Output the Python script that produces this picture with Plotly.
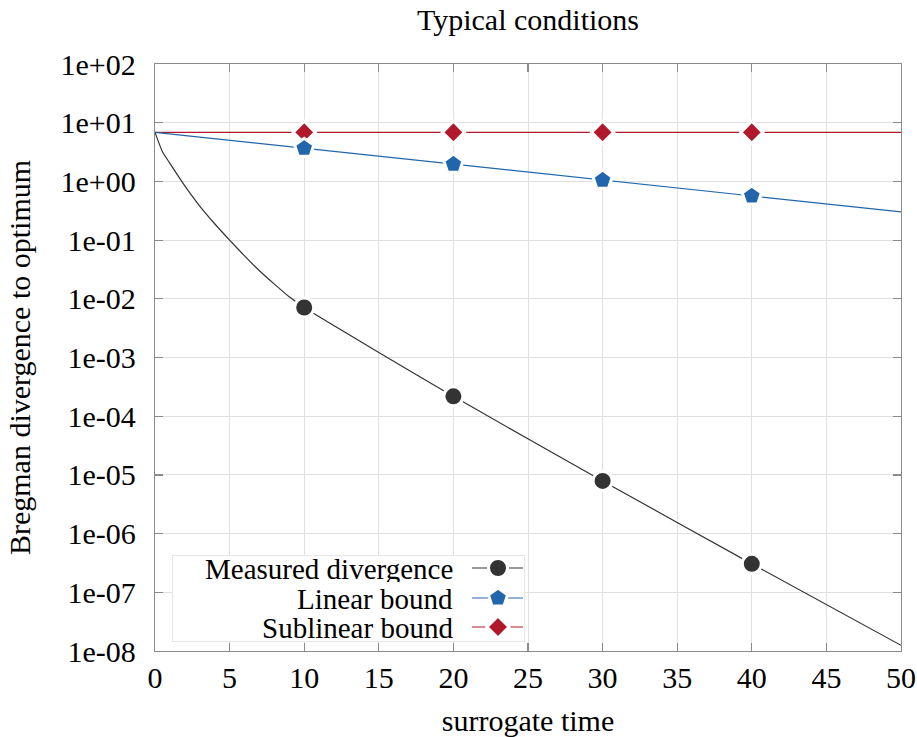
import plotly.graph_objects as go

# ---------------- data ----------------
time_measured = [0, 0.5, 1, 2, 3, 4, 5, 6, 7, 8, 9, 10, 20, 30, 40, 50]
measured = [6.85, 3.2, 2.03, 0.84, 0.38, 0.19, 0.10, 0.054, 0.030, 0.0178, 0.0108,
            0.0071, 2.18e-4, 7.9e-6, 3.05e-7, 1.25e-8]
time_bounds = [0, 10, 20, 30, 40, 50]
linear_bound = [6.85, 3.67, 1.97, 1.05, 0.565, 0.303]
sublinear_bound = [6.85, 6.85, 6.85, 6.85, 6.85, 6.85]
marker_times = [10, 20, 30, 40]

series_names = ["Measured divergence", "Linear bound", "Sublinear bound"]
y_tickvals = [1e-8, 1e-7, 1e-6, 1e-5, 1e-4, 1e-3, 1e-2, 1e-1, 1e0, 1e1, 1e2]
y_ticktext = ["1e-08", "1e-07", "1e-06", "1e-05", "1e-04", "1e-03", "1e-02",
              "1e-01", "1e+00", "1e+01", "1e+02"]
x_tickvals = [0, 5, 10, 15, 20, 25, 30, 35, 40, 45, 50]

# ---------------- style ----------------
C_BLACK = "#333333"
C_BLUE = "#2166ac"
C_RED = "#b2182b"
FONT = "Liberation Serif"
FS = 30
LEG_FS = 29
GRID = "#e0e0e0"
AXIS = "#8a8a8a"
SIZES = {"circle": 19, "pentagon": 20, "diamond": 17}


def pick(ts, vs, wanted):
    xs, ys = [], []
    for t, v in zip(ts, vs):
        if t in wanted:
            xs.append(t)
            ys.append(v)
    return xs, ys


fig = go.Figure()

# lines
fig.add_trace(go.Scatter(x=time_bounds, y=sublinear_bound, mode="lines",
                         line=dict(color=C_RED, width=1.2), showlegend=False))
fig.add_trace(go.Scatter(x=time_bounds, y=linear_bound, mode="lines",
                         line=dict(color=C_BLUE, width=1.2), showlegend=False))
fig.add_trace(go.Scatter(x=time_measured, y=measured, mode="lines",
                         line=dict(color=C_BLACK, width=1.2, shape="spline", smoothing=0.6),
                         showlegend=False))

# markers
mx, my = pick(time_bounds, sublinear_bound, marker_times)
fig.add_trace(go.Scatter(x=mx, y=my, mode="markers",
                         marker=dict(symbol="diamond", size=SIZES["diamond"], color=C_RED,
                                     line=dict(color="white", width=3)),
                         showlegend=False))
mx, my = pick(time_bounds, linear_bound, marker_times)
fig.add_trace(go.Scatter(x=mx, y=my, mode="markers",
                         marker=dict(symbol="pentagon", size=SIZES["pentagon"], color=C_BLUE,
                                     line=dict(color="white", width=3)),
                         showlegend=False))
mx, my = pick(time_measured, measured, marker_times)
fig.add_trace(go.Scatter(x=mx, y=my, mode="markers",
                         marker=dict(symbol="circle", size=SIZES["circle"], color=C_BLACK,
                                     line=dict(color="white", width=3)),
                         showlegend=False))

# ---------------- geometry ----------------
W, H = 917, 737
L, R, T, B = 155, 16, 64, 86
pw, ph = W - L - R, H - T - B

# ---------------- custom legend (symbol on the right of the text) ----------------
box_x0, box_x1, box_y0, box_y1 = 172, 525, 555, 642
bw, bh = box_x1 - box_x0, box_y1 - box_y0
fig.add_trace(go.Scatter(x=[0, bw, bw, 0, 0], y=[0, 0, bh, bh, 0], mode="lines",
                         fill="toself", fillcolor="white",
                         line=dict(color="#cfcfcf", width=1),
                         xaxis="x2", yaxis="y2", showlegend=False, hoverinfo="skip"))
row_y = [bh - (568 - box_y0), bh - (598 - box_y0), bh - (627 - box_y0)]
colors = [C_BLACK, C_BLUE, C_RED]
symbols = ["circle", "pentagon", "diamond"]
seg_x0, seg_x1, seg_mid = 300, 351, 326
text_right = 282
annotations = []
for name, ry, c, s in zip(series_names, row_y, colors, symbols):
    fig.add_trace(go.Scatter(x=[seg_x0, seg_x1], y=[ry, ry], mode="lines",
                             line=dict(color=c, width=1.2),
                             xaxis="x2", yaxis="y2", showlegend=False, hoverinfo="skip"))
    fig.add_trace(go.Scatter(x=[seg_mid], y=[ry], mode="markers",
                             marker=dict(symbol=s, size=SIZES[s], color=c,
                                         line=dict(color="white", width=3)),
                             xaxis="x2", yaxis="y2", showlegend=False, hoverinfo="skip"))
    annotations.append(dict(x=text_right, y=ry, xref="x2", yref="y2", text=name,
                            showarrow=False, xanchor="right", yanchor="middle",
                            height=27, borderpad=0,
                            font=dict(family=FONT, size=LEG_FS, color="black")))

axis_common = dict(showline=True, linecolor=AXIS, linewidth=1.3, mirror="ticks",
                   ticks="inside", ticklen=8, tickcolor=AXIS, tickwidth=1.2,
                   showgrid=True, gridcolor=GRID, gridwidth=1, zeroline=False,
                   automargin=False,
                   tickfont=dict(family=FONT, size=FS, color="black"))

fig.update_layout(
    width=W, height=H,
    margin=dict(l=L, r=R, t=T, b=B, autoexpand=False),
    plot_bgcolor="white", paper_bgcolor="white",
    title=dict(text="Typical conditions", x=(L + pw / 2) / W, xanchor="center",
               y=1 - 19 / H, yanchor="middle",
               font=dict(family=FONT, size=FS, color="black")),
    xaxis=dict(range=[0, 50], tickvals=x_tickvals, ticklabelstandoff=0,
               title=dict(text="surrogate time", standoff=16,
                          font=dict(family=FONT, size=FS, color="black")),
               **axis_common),
    yaxis=dict(type="log", range=[-8, 2], tickvals=y_tickvals, ticktext=y_ticktext,
               ticklabelstandoff=12,
               title=dict(text="Bregman divergence to optimum", standoff=21,
                          font=dict(family=FONT, size=FS, color="black")),
               **axis_common),
    xaxis2=dict(domain=[(box_x0 - L) / pw, (box_x1 - L) / pw], range=[0, bw],
                anchor="y2", visible=False, fixedrange=True, automargin=False),
    yaxis2=dict(domain=[(H - B - box_y1) / ph, (H - B - box_y0) / ph], range=[0, bh],
                anchor="x2", visible=False, fixedrange=True, automargin=False),
    annotations=annotations,
)

fig.write_html("out.html",
               config={"displayModeBar": False, "staticPlot": True},
               post_script="document.body.style.margin='0';document.body.style.overflow='hidden';")
